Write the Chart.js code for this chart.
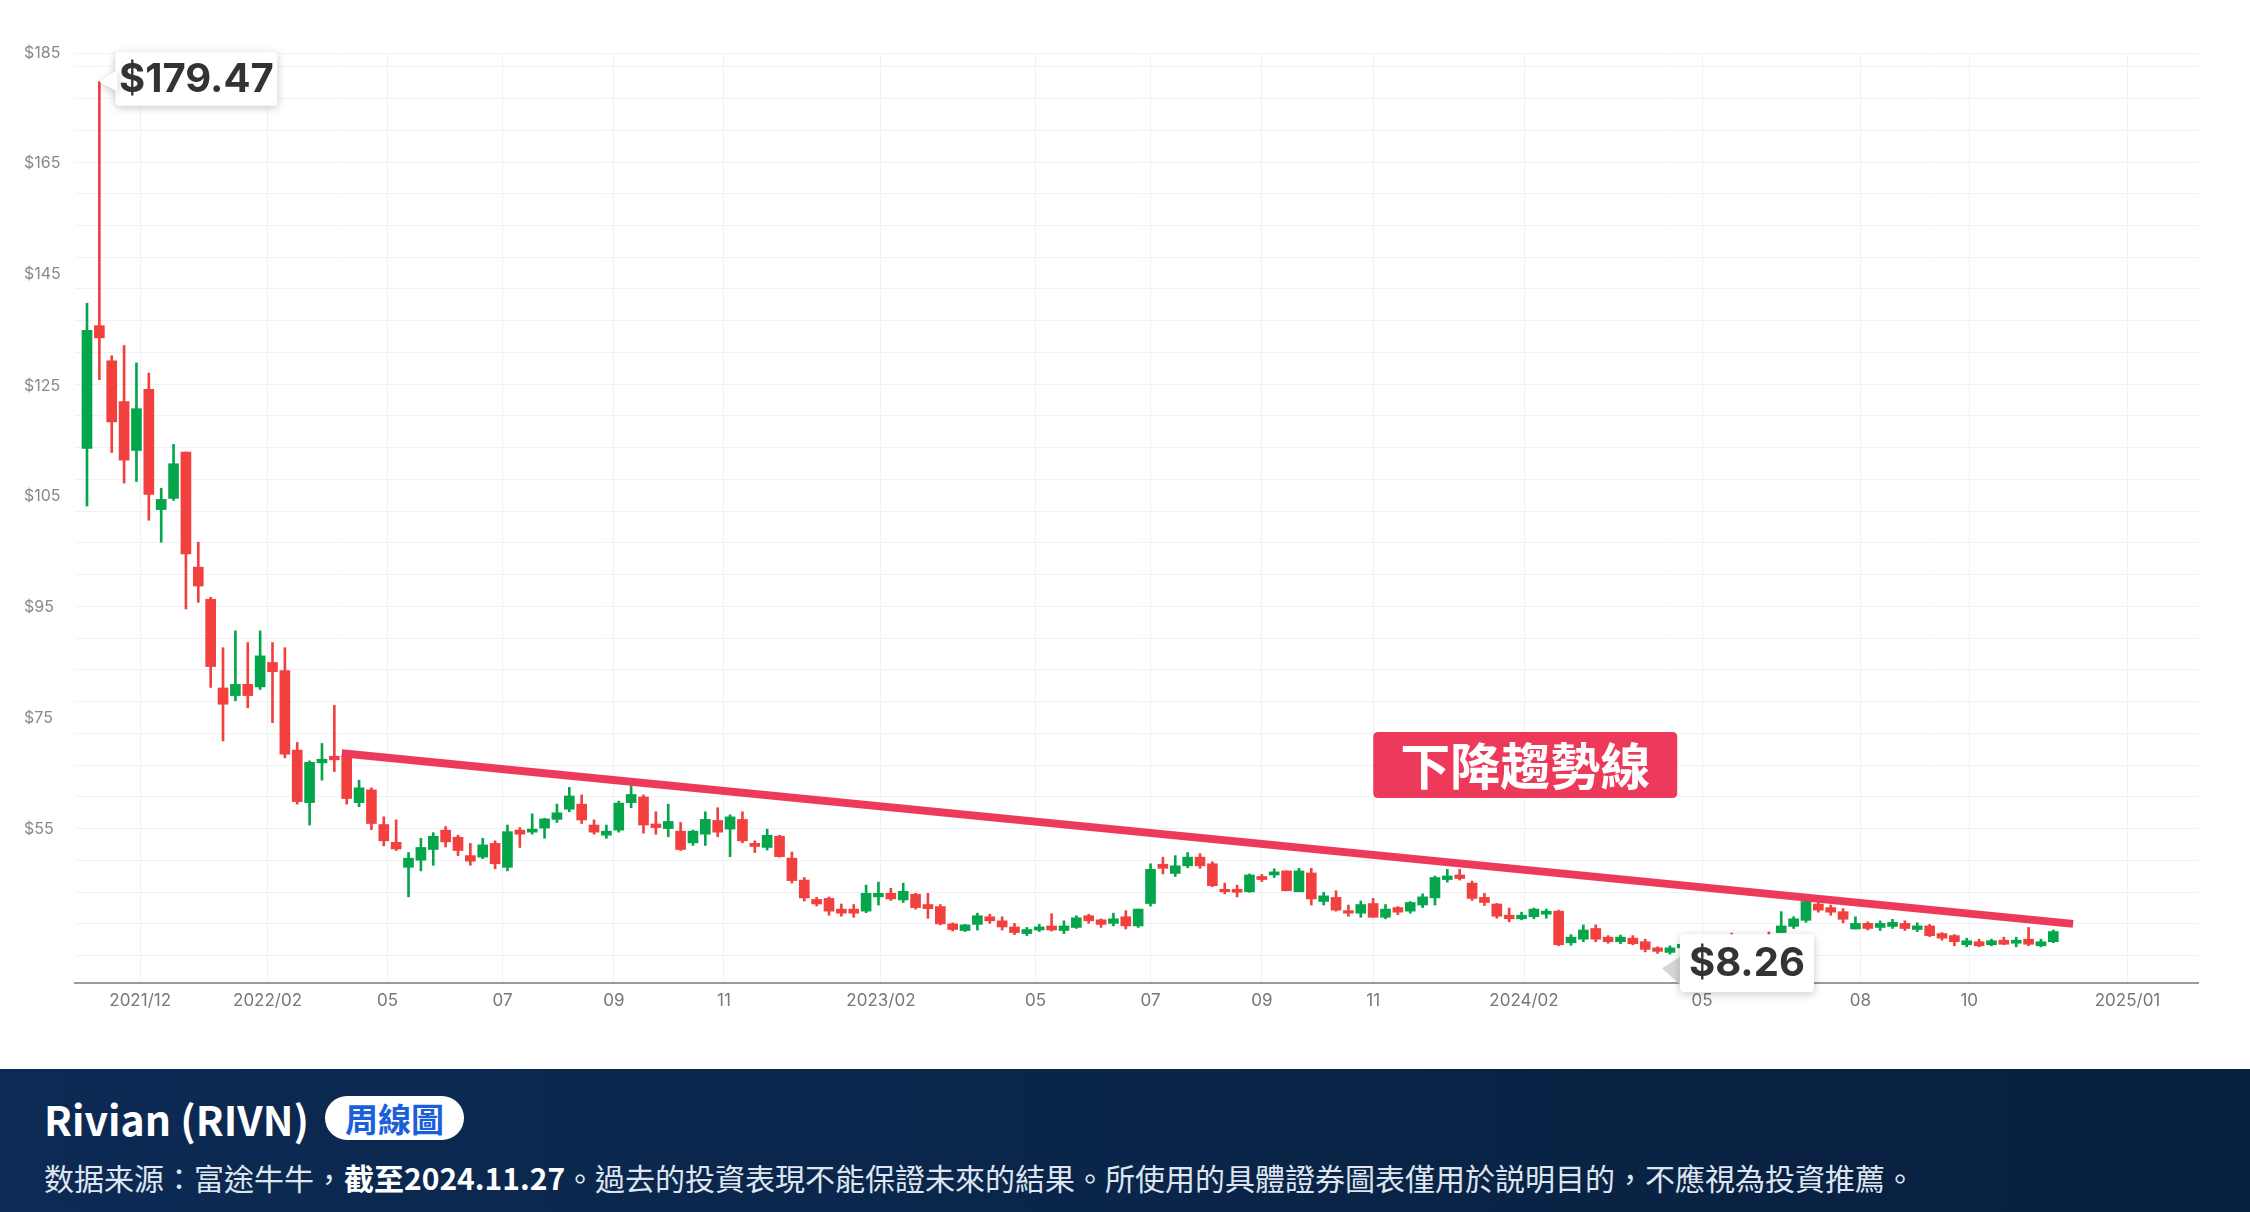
<!DOCTYPE html>
<html>
<head>
<meta charset="utf-8">
<script src="https://cdn.jsdelivr.net/npm/chart.js@4.4.1/dist/chart.umd.min.js"></script>
<style>
  html, body { margin: 0; padding: 0; background: #fff; }
  #wrap { position: relative; width: 2250px; height: 1069px; }
  #footer {
    width: 2250px; height: 143px; box-sizing: border-box; padding: 20px 44px 0;
    background: linear-gradient(90deg, #0c2a54, #08203f);
    color: #fff; font-family: "Noto Sans CJK TC", "Noto Sans", sans-serif;
  }
  .t1 { font-size: 41px; font-weight: 700; display: flex; align-items: center; height: 58px; }
  .pill { margin-left: 16px; background: #fff; color: #1a5fdc; border-radius: 24px;
    font-size: 33px; padding: 0 20px; height: 44px; line-height: 44px; }
  .t2 { font-size: 30px; color: #dfe5ee; margin-top: 8px; }
  .t2 b { color: #fff; }
</style>
</head>
<body>
<div id="wrap"><canvas id="chart" width="2250" height="1069"></canvas></div>
<div id="footer">
  <div class="t1">Rivian (RIVN)<span class="pill">周線圖</span></div>
  <div class="t2">数据来源：富途牛牛，<b>截至2024.11.27</b>。過去的投資表現不能保證未來的結果。所使用的具體證券圖表僅用於説明目的，不應視為投資推薦。</div>
</div>
<script>
// weekly candles, Nov 2021 .. Nov 2024
const opens = [107.5,131.6,124.7,116.7,107.1,119.1,95.5,97.7,106.8,84.2,
  77.9,60.5,59.0,61.2,60.7,65.5,63.9,48.3,38.0,45.8,
  47.1,47.1,38.0,40.5,33.7,30.2,25.3,26.7,28.8,32.6,
  31.2,27.6,27.3,30.0,25.3,32.6,32.2,33.0,34.7,36.7,
  37.7,33.6,31.6,32.6,38.0,39.1,33.8,32.9,32.4,30.1,
  31.8,34.5,32.8,34.7,30.0,29.2,31.4,27.1,22.8,19.0,
  19.2,17.1,17.1,16.7,19.5,20.2,18.9,20.0,18.0,17.6,
  14.2,12.9,14.1,15.6,14.8,13.6,12.3,13.0,13.8,12.9,
  13.5,15.8,15.0,14.3,15.6,13.8,18.2,25.9,24.1,25.6,
  27.3,26.0,21.0,21.0,20.5,23.5,23.8,24.6,20.5,24.2,
  18.6,19.4,16.8,16.3,18.2,15.5,17.4,16.7,17.9,19.3,
  22.9,23.8,22.2,19.4,18.1,15.9,15.2,15.6,16.1,16.7,
  10.5,11.2,13.3,11.6,10.7,11.4,10.7,9.5,8.6,9.5,
  10.2,9.9,10.5,10.9,10.4,10.9,10.8,12.5,13.7,14.9,
  18.1,17.4,16.6,13.2,14.3,13.5,13.7,14.3,13.1,13.8,
  12.3,11.9,10.1,10.7,10.1,11.0,10.4,11.2,9.9,10.7];
const highs = [136,179.47,125.7,127.7,124.3,122.3,99.7,108.3,106.8,89.1,
  78.3,68.4,71.7,69.4,71.7,69.4,68.4,49.8,46.2,49.6,
  57.1,47.5,42.4,40.9,35.2,34.6,28.2,31.0,32.1,33.3,
  31.6,30.0,31.0,30.5,33.6,33.1,35.8,34.9,37.7,41.0,
  39.5,34.6,33.6,38.3,41.3,39.5,36.2,37.7,34.1,32.6,
  36.2,37.0,35.6,36.2,30.5,32.8,31.6,28.3,23.3,19.4,
  19.5,18.1,18.0,21.8,22.4,21.2,22.2,20.2,20.2,18.0,
  14.4,14.1,16.3,16.1,15.6,14.3,13.5,14.1,16.2,14.8,
  15.8,16.1,15.2,16.3,16.8,17.1,26.0,27.3,27.6,28.2,
  28.0,26.4,22.2,21.8,24.0,23.9,25.0,24.6,25.1,25.1,
  20.4,20.7,17.9,18.7,19.2,18.0,17.6,18.6,20.1,23.6,
  24.9,24.9,22.6,20.2,18.2,17.3,16.5,17.3,17.1,16.9,
  12.1,14.0,14.0,11.9,12.0,11.9,11.2,9.7,9.9,10.6,
  10.5,10.8,11.2,12.4,11.2,11.3,12.6,16.6,15.6,18.9,
  18.6,17.9,17.2,15.6,14.6,14.8,15.1,14.8,14.4,14.1,
  12.5,12.1,11.4,11.2,11.2,11.6,11.6,13.5,11.2,13.0];
const lows = [96.2,121,106.7,100.7,101,93.4,89.1,97.3,76,77.3,
  60.6,50.1,58.0,56.6,60.2,53.7,46.8,37.7,33.6,42.4,
  44.1,37.7,37.2,32.7,29.5,28.6,19.5,24.6,25.7,29.3,
  27.6,25.7,27.0,25.0,24.6,29.2,31.8,31.0,34.1,36.2,
  33.9,31.8,31.0,32.2,37.0,32.0,31.8,31.3,28.6,29.6,
  29.6,31.3,27.4,30.1,28.2,28.7,27.3,22.2,18.7,17.7,
  15.9,15.7,15.5,16.4,17.9,18.8,18.4,17.1,15.3,14.0,
  12.8,12.7,13.0,14.3,13.0,12.1,11.9,12.7,12.8,12.3,
  13.3,14.3,13.5,13.8,13.2,13.5,17.7,24.0,23.5,25.2,
  25.1,21.5,20.1,19.5,20.4,22.5,23.3,20.7,20.5,17.9,
  17.9,16.7,15.7,15.5,15.5,15.2,16.0,16.3,17.4,17.9,
  22.4,22.8,18.8,17.8,15.3,14.6,15.0,15.2,15.3,9.9,
  10.0,10.7,10.7,10.4,10.3,10.1,8.7,8.4,8.26,9.3,
  9.7,9.6,9.8,10.3,10.0,10.3,10.3,12.5,13.3,14.5,
  16.5,15.9,14.4,13.2,13.0,12.9,13.3,12.9,12.7,11.7,
  11.0,9.9,9.7,9.7,9.9,10.1,9.7,9.9,9.7,10.5];
const closes = [130.7,129.2,112.7,105.2,115.3,98.5,97.5,104.5,86.8,80.5,
  64.7,57.3,61.2,59.0,66.8,63.7,47.5,38.2,45.9,46.5,
  46.4,38.8,40.9,33.9,30.5,28.9,27.1,29.2,31.4,30.3,
  28.6,26.5,29.7,26.0,32.3,31.8,32.8,34.8,36.0,39.3,
  34.6,32.2,32.4,37.9,39.6,33.6,33.1,34.3,28.8,32.4,
  34.7,32.2,35.2,30.5,29.4,31.6,27.4,22.7,19.3,18.1,
  16.7,16.3,16.3,20.2,20.2,19.1,20.6,17.4,17.2,14.2,
  13.1,14.0,15.8,14.8,13.6,12.5,13.1,13.6,13.0,13.8,
  15.4,14.8,14.1,15.2,13.8,17.1,24.9,25.1,25.6,27.3,
  25.6,21.7,20.5,20.4,23.8,22.9,24.4,20.7,24.6,19.1,
  19.7,16.9,16.3,18.0,15.5,17.1,16.5,18.4,19.5,23.3,
  23.6,23.1,19.2,18.4,15.7,15.2,15.9,17.1,16.7,10.1,
  11.6,13.0,11.2,10.7,11.6,10.3,9.2,8.8,9.5,10.2,
  9.9,10.5,10.9,10.4,10.9,10.8,10.6,13.8,15.2,18.6,
  16.9,16.5,15.1,14.3,13.3,14.3,14.5,13.3,13.8,11.9,
  11.4,10.7,10.9,9.9,10.9,10.2,11.0,10.2,10.7,12.7];

const trendX = [20.6, 160.6];
const trendY = [47.7, 14.2];
const trendLabel = '下降趨勢線';

const xTickPos = [4.3,14.6,24.3,33.6,42.6,51.5,64.2,76.7,86.0,95.0,104.0,116.2,130.6,143.4,152.2,165.0];
const xTickLabels = ['2021/12','2022/02','05','07','09','11','2023/02','05','07','09','11','2024/02','05','08','10','2025/01'];
const yTickPos = [185.1,163.4,141.7,119.8,98.1,76.4,54.5,32.8];
const yTickLabels = ['$185','$165','$145','$125','$105','$95','$75','$55'];
const yGridStart = 182.4, yGridStep = 6.23;

const GREEN = '#05a64b', RED = '#f2403f';
const colors = opens.map((o, i) => closes[i] >= o ? GREEN : RED);
const wicks = opens.map((o, i) => ({ x: i, y: [lows[i], highs[i]] }));
const bodies = opens.map((o, i) => {
  let a = Math.min(o, closes[i]), b = Math.max(o, closes[i]);
  if (b - a < 0.35) b = a + 0.35;
  return { x: i, y: [a, b] };
});

function box(ctx, x, y, w, h, r) {
  ctx.beginPath();
  ctx.moveTo(x + r, y); ctx.lineTo(x + w - r, y); ctx.quadraticCurveTo(x + w, y, x + w, y + r);
  ctx.lineTo(x + w, y + h - r); ctx.quadraticCurveTo(x + w, y + h, x + w - r, y + h);
  ctx.lineTo(x + r, y + h); ctx.quadraticCurveTo(x, y + h, x, y + h - r);
  ctx.lineTo(x, y + r); ctx.quadraticCurveTo(x, y, x + r, y); ctx.closePath();
}

const callouts = {
  id: 'callouts',
  afterDatasetsDraw(chart) {
    const { ctx, scales: { x, y } } = chart;
    const hiI = highs.indexOf(Math.max(...highs));
    const loI = lows.indexOf(Math.min(...lows));
    ctx.save();
    ctx.font = '700 40px Inter, Roboto, sans-serif';
    ctx.textBaseline = 'middle';
    // max
    let px = x.getPixelForValue(hiI), py = y.getPixelForValue(highs[hiI]);
    let bx = px + 16, by = py - 30, bw = 162, bh = 54;
    ctx.shadowColor = 'rgba(0,0,0,0.22)'; ctx.shadowBlur = 8; ctx.shadowOffsetY = 2;
    ctx.fillStyle = '#fff'; box(ctx, bx, by, bw, bh, 4); ctx.fill();
    ctx.beginPath(); ctx.moveTo(px, py); ctx.lineTo(bx + 2, by + 18); ctx.lineTo(bx + 2, by + 40); ctx.closePath(); ctx.fill();
    ctx.shadowColor = 'transparent';
    ctx.fillStyle = '#333'; ctx.textAlign = 'center';
    ctx.fillText('$' + highs[hiI].toFixed(2), bx + bw / 2, by + bh / 2 + 1);
    // min
    px = x.getPixelForValue(loI); py = y.getPixelForValue(lows[loI]);
    bx = px + 10; by = py - 20; bw = 134; bh = 58;
    ctx.fillStyle = '#d6d6d6';
    ctx.beginPath(); ctx.moveTo(px - 8, py + 14); ctx.lineTo(bx + 4, by + bh - 4); ctx.lineTo(bx + 4, by + 20); ctx.closePath(); ctx.fill();
    ctx.shadowColor = 'rgba(0,0,0,0.22)'; ctx.shadowBlur = 8; ctx.shadowOffsetY = 2;
    ctx.fillStyle = '#fff'; box(ctx, bx, by, bw, bh, 4); ctx.fill();
    ctx.shadowColor = 'transparent';
    ctx.fillStyle = '#333';
    ctx.fillText('$' + lows[loI].toFixed(2), bx + bw / 2, by + bh / 2 + 1);
    // trend label
    const cx = x.getPixelForValue(116.3), cy = y.getPixelForValue(45.4);
    ctx.fillStyle = '#ee3a5a'; box(ctx, cx - 152, cy - 33, 304, 66, 5); ctx.fill();
    ctx.fillStyle = '#fff'; ctx.font = '700 50px "Noto Sans CJK TC", sans-serif';
    ctx.fillText(trendLabel, cx, cy + 1);
    ctx.restore();
  }
};

new Chart(document.getElementById('chart'), {
  type: 'bar',
  data: {
    datasets: [
      { type: 'line', data: trendX.map((v, i) => ({ x: v, y: trendY[i] })), borderColor: '#ee3a5a',
        borderWidth: 8, pointRadius: 0, order: 0 },
      { data: bodies, backgroundColor: colors, barThickness: 10, grouped: false, order: 1 },
      { data: wicks, backgroundColor: colors, barThickness: 2, grouped: false, order: 2 }
    ]
  },
  options: {
    responsive: false, animation: false,
    layout: { padding: { left: 24, right: 52, top: 53, bottom: 0 } },
    plugins: { legend: { display: false }, tooltip: { enabled: false } },
    scales: {
      x: {
        type: 'linear', min: -0.97, max: 170.7, offset: false,
        afterBuildTicks: s => { s.ticks = xTickPos.map(v => ({ value: v })); },
        afterFit: s => { s.height = 86; },
        ticks: { autoSkip: false, maxRotation: 0, padding: 8, color: '#777', font: { size: 17, family: 'Inter, Roboto, sans-serif' },
          callback: (v, i) => xTickLabels[i] },
        grid: { color: '#eef1f6', drawTicks: false, offset: false },
        border: { color: '#9a9a9a', width: 2 }
      },
      y: {
        min: 2.6, max: 185.1,
        afterBuildTicks: s => { s.ticks = yTickPos.map(v => ({ value: v })); },
        afterFit: s => { s.width = 51; },
        ticks: { autoSkip: false, crossAlign: 'far', padding: 0, color: '#888', font: { size: 16, family: 'Inter, Roboto, sans-serif' },
          callback: (v, i) => yTickLabels[i] },
        grid: { display: false },
        border: { display: false }
      },
      yg: {
        position: 'right', min: 2.6, max: 185.1,
        afterBuildTicks: s => {
          const t = [{ value: 185.1 }];
          for (let v = yGridStart; v > 2.6; v -= yGridStep) t.push({ value: v });
          s.ticks = t;
        },
        afterFit: s => { s.width = 0; },
        ticks: { display: false },
        grid: { color: '#eef1f6', drawTicks: false },
        border: { display: false }
      }
    }
  },
  plugins: [callouts]
});
</script>
</body>
</html>
